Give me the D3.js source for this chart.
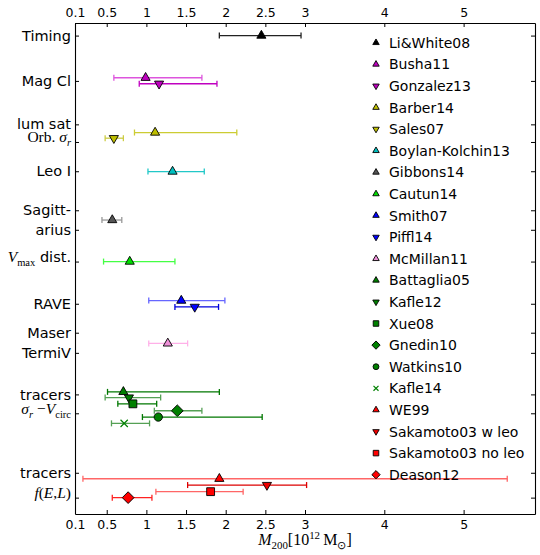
<!doctype html>
<html lang="en">
<head>
<meta charset="utf-8">
<script src="https://cdn.jsdelivr.net/npm/d3@7"></script>
<style>
  body { margin: 0; background: #fff; }
  text { font-family: "DejaVu Sans", sans-serif; }
</style>
</head>
<body>
<svg id="chart" width="540" height="555"></svg>
<script>
// estimates of M200 (10^12 Msun)
var names = ["Li&White08", "Busha11", "Gonzalez13", "Barber14", "Sales07",
  "Boylan-Kolchin13", "Gibbons14", "Cautun14", "Smith07", "Piffl14",
  "McMillan11", "Battaglia05", "Kafle12", "Xue08", "Gnedin10", "Watkins10",
  "Kafle14", "WE99", "Sakamoto03 w leo", "Sakamoto03 no leo", "Deason12"];
var mass   = [2.45, 0.99, 1.16, 1.11, 0.59, 1.33, 0.57, 0.79, 1.44, 1.61, 1.27,
              0.71, 0.78, 0.83, 1.39, 1.15, 0.72, 1.92, 2.52, 1.81, 0.77];
var massLo = [1.92, 0.59, 0.91, 0.85, 0.48, 1.02, 0.44, 0.46, 1.03, 1.36, 1.03,
              0.51, 0.48, 0.64, 1.10, 0.95, 0.56, 0.20, 1.52, 1.12, 0.57];
var massHi = [2.95, 1.70, 1.89, 2.14, 0.71, 1.73, 0.69, 1.36, 1.99, 1.91, 1.52,
              1.92, 1.18, 1.13, 1.70, 2.46, 1.04, 5.55, 3.02, 2.22, 1.07];
// row of each estimate on the method axis
var row = [2, 8.7, 9.65, 17.4, 18.3, 23.6, 31.3, 37.9, 44.1, 45.1, 50.9,
           58.6, 59.5, 60.5, 61.6, 62.6, 63.6, 72.4, 73.4, 74.45, 75.4];

// method labels on the y axis
var methodNames = ["Timing", "Mag Cl", "lum sat", "Orb. sigma_r", "Leo I",
  "Sagitt-", "arius", "Vmax dist.", "RAVE", "Maser", "TermiV", "tracers",
  "sigma_r-V_circ", "tracers", "f(E,L)"];
var methodRow = [2, 9.2, 16.1, 18.9, 23.55, 29.75, 32.85, 37.9, 44.6, 49.2,
                 52.4, 59.0, 62.0, 71.45, 75.4];

var xTicks = [0.1, 0.5, 1, 1.5, 2, 2.5, 3, 4, 5];

// styles
var markers = ["^", "^", "v", "^", "v", "^", "^", "^", "^", "v", "^",
               "^", "v", "s", "D", "o", "x", "^", "v", "s", "D"];
var colors = ["#000000", "#bf00bf", "#bf00bf", "#bfbf00", "#bfbf00", "#00bfbf",
  "#555555", "#00dd00", "#0000ff", "#0000ff", "#ee90d8", "#008000", "#008000",
  "#008000", "#008000", "#008000", "#008000", "#ff0000", "#ee0000", "#ff0000", "#ff0000"];
var barColors = ["#222222", "#dd55dd", "#c000c0", "#cccc33", "#cccc44", "#22c8c8",
  "#999999", "#44ff44", "#6666ff", "#0000dd", "#ffb0e8", "#007700", "#55a055",
  "#007700", "#55a055", "#007700", "#55a055", "#ff6666", "#dd0000", "#ff6666", "#ff2222"];

var W = 540, H = 555;
var margin = {top: 23, right: 5, bottom: 41, left: 75};

var svg = d3.select("#chart");

var x = d3.scaleLinear().domain([0.1, 5.9]).range([margin.left, W - margin.right]);
var y = d3.scaleLinear().domain([0, 78]).range([margin.top, H - margin.bottom]);

// label pieces: [text, style]
var mathLabels = {
  "Orb. sigma_r": [["Orb. ", "rm"], ["\u03c3", "it"], ["r", "subit"]],
  "Vmax dist.": [["V", "it"], ["max", "sub"], [" dist.", "sans"]],
  "sigma_r-V_circ": [["\u03c3", "it"], ["r", "subit"], [" \u2212", "rm"], ["V", "it"], ["circ", "sub"]],
  "f(E,L)": [["f", "it"], ["(", "rm"], ["E", "it"], [",", "rm"], ["L", "it"], [")", "rm"]]
};

function addParts(t, parts, size) {
  var shift = 0;
  parts.forEach(function (p) {
    var st = p[1];
    var s = t.append("tspan").text(p[0]);
    var target = 0, fs = size;
    if (st == "sub" || st == "subit") { target = size * 0.25; fs = size * 0.68; }
    if (st == "sup") { target = -size * 0.35; fs = size * 0.68; }
    s.attr("dy", target - shift);
    shift = target;
    if (st == "sans") {
      s.attr("font-family", "DejaVu Sans").attr("font-size", 14.5);
    } else {
      s.attr("font-family", "Liberation Serif").attr("font-size", fs);
      if (st == "it" || st == "subit") s.attr("font-style", "italic");
    }
  });
}

// axes (ticks point inward)
function styleAxis(g) {
  g.selectAll(".domain").attr("stroke", "#000").attr("stroke-width", 1.1);
  g.selectAll(".tick line").attr("stroke", "#000").attr("stroke-width", 1);
  g.selectAll(".tick text").attr("fill", "#000")
    .attr("font-family", "DejaVu Sans");
}

var fmt = function (d) { return d == 0.1 || d == 0.5 || d == 1.5 || d == 2.5 ? String(d) : d3.format("d")(d); };

svg.append("g").attr("transform", "translate(0," + (H - margin.bottom) + ")")
  .call(d3.axisBottom(x).tickValues(xTicks).tickFormat(fmt).tickSize(-4).tickSizeOuter(0).tickPadding(6))
  .attr("font-size", 12.5).call(styleAxis);

svg.append("g").attr("transform", "translate(0," + margin.top + ")")
  .call(d3.axisTop(x).tickValues(xTicks).tickFormat(fmt).tickSize(-4).tickSizeOuter(0).tickPadding(6))
  .attr("font-size", 12.5).call(styleAxis);

var yAxisG = svg.append("g").attr("transform", "translate(" + margin.left + ",0)")
  .call(d3.axisLeft(y).tickValues(methodRow).tickFormat(function (d, i) { return methodNames[i]; })
    .tickSize(-4).tickSizeOuter(0).tickPadding(4))
  .attr("font-size", 14.5).call(styleAxis);

yAxisG.selectAll(".tick text").each(function (d, i) {
  var parts = mathLabels[methodNames[i]];
  if (parts) {
    var t = d3.select(this).text("");
    addParts(t, parts, 15.5);
  }
});

svg.append("g").attr("transform", "translate(" + (W - margin.right) + ",0)")
  .call(d3.axisRight(y).tickValues(methodRow).tickFormat("").tickSize(-4).tickSizeOuter(0))
  .call(styleAxis);

// marker shapes
function markerPath(m, s) {
  if (m == "^") return d3.symbol(d3.symbolTriangle, s * s * 0.5)();
  if (m == "v") return d3.symbol(d3.symbolTriangle, s * s * 0.5)();
  if (m == "s") return d3.symbol(d3.symbolSquare, s * s * 0.85)();
  if (m == "D") return d3.symbol(d3.symbolSquare, s * s * 0.95)();
  if (m == "o") return d3.symbol(d3.symbolCircle, s * s * 0.75)();
  return d3.symbol(d3.symbolX, s * s * 0.5)();
}
function markerRot(m) {
  if (m == "v") return " rotate(180)";
  if (m == "D") return " rotate(45)";
  return "";
}

function drawMarker(g, i, cx, cy, s) {
  g.append("path")
    .attr("d", markerPath(markers[i], s))
    .attr("transform", "translate(" + cx + "," + cy + ")" + markerRot(markers[i]))
    .attr("fill", markers[i] == "x" ? "none" : colors[i])
    .attr("stroke", markers[i] == "x" ? colors[i] : "#000")
    .attr("stroke-width", markers[i] == "x" ? 1.2 : 0.9);
}

var plot = svg.append("g");
var cap = 3;

names.forEach(function (n, i) {
  var g = plot.append("g");
  var yy = y(row[i]);
  g.append("line")
    .attr("x1", x(massLo[i])).attr("x2", x(massHi[i]))
    .attr("y1", yy).attr("y2", yy)
    .attr("stroke", barColors[i]).attr("stroke-width", 1.3);
  [massLo[i], massHi[i]].forEach(function (v) {
    g.append("line")
      .attr("x1", x(v)).attr("x2", x(v))
      .attr("y1", yy - cap).attr("y2", yy + cap)
      .attr("stroke", barColors[i]).attr("stroke-width", 1.3);
  });
  drawMarker(g, i, x(mass[i]), yy, 8.5);
});

// legend, no frame
var leg = svg.append("g");
names.forEach(function (n, i) {
  var ly = 42.7 + i * 21.6;
  drawMarker(leg, i, 376, ly, 6);
  leg.append("text")
    .attr("x", 389).attr("y", ly).attr("dy", "0.36em")
    .attr("font-size", 14).attr("fill", "#000")
    .text(n);
});

// x label
var xl = svg.append("text")
  .attr("x", x(3.0)).attr("y", 545)
  .attr("text-anchor", "middle").attr("fill", "#000");
addParts(xl, [["M", "it"], ["200", "sub"], ["[10", "rm"], ["12", "sup"],
  ["\u2009M", "rm"], ["\u2299", "sub"], ["]", "rm"]], 16);
</script>
</body>
</html>
